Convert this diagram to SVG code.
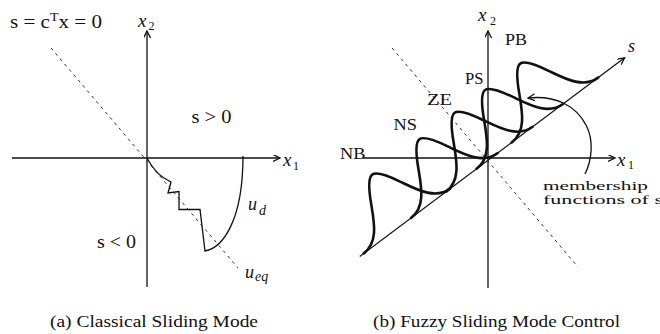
<svg xmlns="http://www.w3.org/2000/svg" xmlns:xlink="http://www.w3.org/1999/xlink" width="660" height="334" viewBox="0 0 660 334">
<style>
.ax{stroke:#111;stroke-width:1.3;fill:none}
.dash{stroke:#333;stroke-width:1;stroke-dasharray:3 4;fill:none}
.thin{stroke:#111;stroke-width:1.3;fill:none}
.lobe{stroke:#111;stroke-width:2.6;fill:none;stroke-linecap:round}
text{font-family:"Liberation Serif","Times New Roman",serif;fill:#111}
.it{font-style:italic}
</style>
<defs>
<marker id="arr" markerWidth="10" markerHeight="10" refX="7" refY="3.5" orient="auto" markerUnits="userSpaceOnUse">
<path d="M0,0 L7,3.5 L0,7" fill="none" stroke="#111" stroke-width="1.3"/>
</marker>
<path id="lobe" class="lobe" d="M-54,0 C-35.5,0 -26.7,-19.3 -18.4,-35.2 C-14.8,-42.2 -6.1,-58 0,-58 C6.1,-58 14.8,-42.2 18.4,-35.2 C26.7,-19.3 35.5,0 54,0"/>
</defs>

<g id="connectors">
<!-- left panel -->
<line class="ax" x1="12" y1="158" x2="280" y2="158" marker-end="url(#arr)"/>
<line class="ax" x1="147" y1="287" x2="147" y2="31" marker-end="url(#arr)"/>
<line class="dash" x1="51" y1="48" x2="238" y2="268"/>
<path class="thin" d="M147,158 C152,167 157,174 164,178 L171,182 L168,193 L179,191.5 L179,209.5 L200,209.5 L205,251 C222,248 243,222 243,156"/>
<!-- right panel -->
<line class="ax" x1="363" y1="158" x2="615" y2="158" marker-end="url(#arr)"/>
<line class="ax" x1="488" y1="288" x2="488" y2="31" marker-end="url(#arr)"/>
<line class="dash" x1="392" y1="48" x2="578" y2="267"/>
<path class="thin" d="M585,174 C592,160 594,140 586,125 C576,106 556,95 528,98" marker-end="url(#arr)"/>
<g transform="translate(487,161) rotate(-36.87)">
<line class="ax" x1="-159" y1="0" x2="172" y2="0" marker-end="url(#arr)"/>
</g>
</g>

<g id="membership" transform="translate(487,161) rotate(-36.87)">
<use xlink:href="#lobe" href="#lobe" x="-100"/>
<use xlink:href="#lobe" href="#lobe" x="-41"/>
<use xlink:href="#lobe" href="#lobe" x="3"/>
<use xlink:href="#lobe" href="#lobe" x="41"/>
<use xlink:href="#lobe" href="#lobe" x="85"/>
</g>

<g id="labels-a">
<text x="10" y="28" font-size="18" textLength="92" lengthAdjust="spacingAndGlyphs">s = c<tspan font-size="12" dy="-7">T</tspan><tspan dy="7">x = 0</tspan></text>
<text x="138" y="26.5" font-size="19" class="it">x</text>
<text x="148.5" y="30" font-size="12">2</text>
<text x="191.5" y="122.5" font-size="18" textLength="40" lengthAdjust="spacingAndGlyphs">s &gt; 0</text>
<text x="283" y="166" font-size="19" class="it">x</text>
<text x="293" y="169.5" font-size="12">1</text>
<text x="97" y="248" font-size="18" textLength="39" lengthAdjust="spacingAndGlyphs">s &lt; 0</text>
<text x="248" y="210" font-size="18" class="it">u</text>
<text x="259" y="215" font-size="14" class="it">d</text>
<text x="245" y="278" font-size="18" class="it">u</text>
<text x="255" y="280.5" font-size="14" class="it">eq</text>
<text x="50" y="327" font-size="17" textLength="208" lengthAdjust="spacingAndGlyphs">(a) Classical Sliding Mode</text>
</g>

<g id="labels-b">
<text x="478" y="21" font-size="19" class="it">x</text>
<text x="490" y="25" font-size="12">2</text>
<text x="505" y="45" font-size="17" textLength="22" lengthAdjust="spacingAndGlyphs">PB</text>
<text x="465" y="83.5" font-size="17" textLength="18.5" lengthAdjust="spacingAndGlyphs">PS</text>
<text x="427" y="105" font-size="17" textLength="25" lengthAdjust="spacingAndGlyphs">ZE</text>
<text x="393.5" y="130" font-size="17" textLength="23.5" lengthAdjust="spacingAndGlyphs">NS</text>
<text x="340" y="158.5" font-size="17" textLength="25.5" lengthAdjust="spacingAndGlyphs">NB</text>
<text x="628" y="52" font-size="18" class="it">s</text>
<text x="617" y="165.5" font-size="19" class="it">x</text>
<text x="628" y="169" font-size="12">1</text>
<text x="543" y="190" font-size="12.5" textLength="105" lengthAdjust="spacingAndGlyphs">membership</text>
<text x="543" y="204" font-size="12.5" textLength="120" lengthAdjust="spacingAndGlyphs">functions of s</text>
<text x="373" y="327" font-size="17" textLength="247" lengthAdjust="spacingAndGlyphs">(b) Fuzzy Sliding Mode Control</text>
</g>
</svg>
